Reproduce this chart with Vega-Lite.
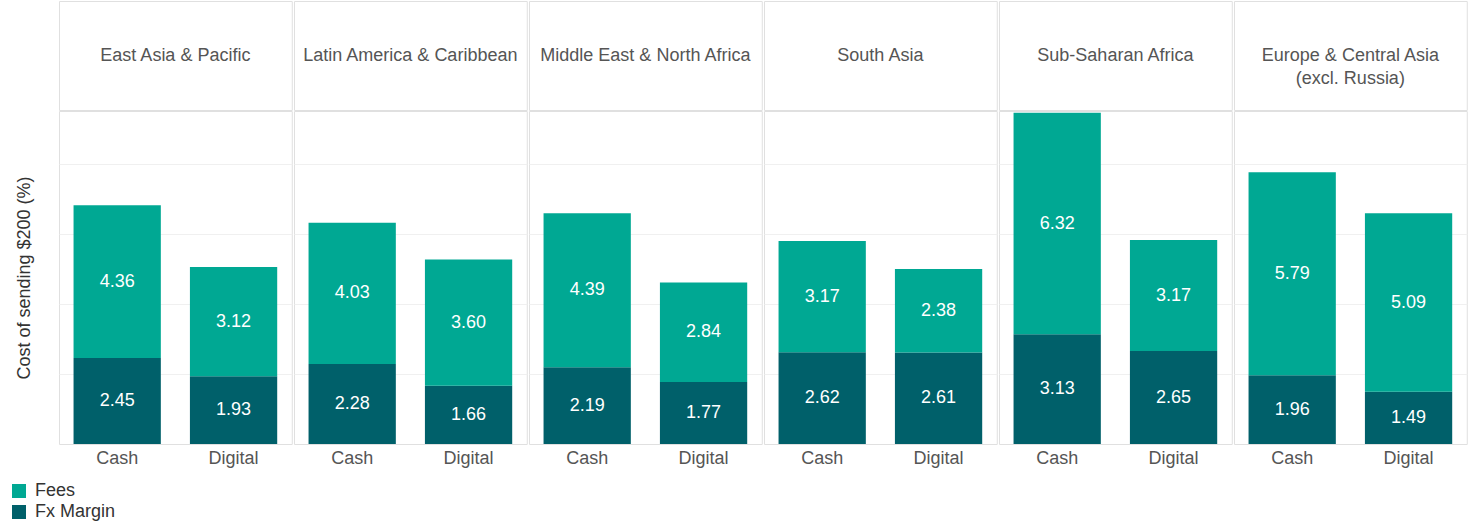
{
  "$schema": "https://vega.github.io/schema/vega-lite/v6.json",
  "padding": {"left": 10, "top": 0, "right": 0, "bottom": 0},
  "config": {
    "font": "Liberation Sans",
    "view": {"stroke": "#e0e0e0", "strokeWidth": 1},
    "legend": {"orient": "none", "legendX": -49, "legendY": 481}
  },
  "datasets": {
    "regions": [
      {"region": "East Asia & Pacific", "label": "East Asia & Pacific"},
      {"region": "Latin America & Caribbean", "label": "Latin America & Caribbean"},
      {"region": "Middle East & North Africa", "label": "Middle East & North Africa"},
      {"region": "South Asia", "label": "South Asia"},
      {"region": "Sub-Saharan Africa", "label": "Sub-Saharan Africa"},
      {"region": "Europe & Central Asia (excl. Russia)", "label": "Europe & Central Asia\n(excl. Russia)"}
    ],
    "costs": [
      {"region": "East Asia & Pacific", "type": "Cash", "component": "Fx Margin", "value": 2.45},
      {"region": "East Asia & Pacific", "type": "Cash", "component": "Fees", "value": 4.36},
      {"region": "East Asia & Pacific", "type": "Digital", "component": "Fx Margin", "value": 1.93},
      {"region": "East Asia & Pacific", "type": "Digital", "component": "Fees", "value": 3.12},
      {"region": "Latin America & Caribbean", "type": "Cash", "component": "Fx Margin", "value": 2.28},
      {"region": "Latin America & Caribbean", "type": "Cash", "component": "Fees", "value": 4.03},
      {"region": "Latin America & Caribbean", "type": "Digital", "component": "Fx Margin", "value": 1.66},
      {"region": "Latin America & Caribbean", "type": "Digital", "component": "Fees", "value": 3.60},
      {"region": "Middle East & North Africa", "type": "Cash", "component": "Fx Margin", "value": 2.19},
      {"region": "Middle East & North Africa", "type": "Cash", "component": "Fees", "value": 4.39},
      {"region": "Middle East & North Africa", "type": "Digital", "component": "Fx Margin", "value": 1.77},
      {"region": "Middle East & North Africa", "type": "Digital", "component": "Fees", "value": 2.84},
      {"region": "South Asia", "type": "Cash", "component": "Fx Margin", "value": 2.62},
      {"region": "South Asia", "type": "Cash", "component": "Fees", "value": 3.17},
      {"region": "South Asia", "type": "Digital", "component": "Fx Margin", "value": 2.61},
      {"region": "South Asia", "type": "Digital", "component": "Fees", "value": 2.38},
      {"region": "Sub-Saharan Africa", "type": "Cash", "component": "Fx Margin", "value": 3.13},
      {"region": "Sub-Saharan Africa", "type": "Cash", "component": "Fees", "value": 6.32},
      {"region": "Sub-Saharan Africa", "type": "Digital", "component": "Fx Margin", "value": 2.65},
      {"region": "Sub-Saharan Africa", "type": "Digital", "component": "Fees", "value": 3.17},
      {"region": "Europe & Central Asia (excl. Russia)", "type": "Cash", "component": "Fx Margin", "value": 1.96},
      {"region": "Europe & Central Asia (excl. Russia)", "type": "Cash", "component": "Fees", "value": 5.79},
      {"region": "Europe & Central Asia (excl. Russia)", "type": "Digital", "component": "Fx Margin", "value": 1.49},
      {"region": "Europe & Central Asia (excl. Russia)", "type": "Digital", "component": "Fees", "value": 5.09}
    ]
  },
  "spacing": -2,
  "vconcat": [
    {
      "data": {"name": "regions"},
      "facet": {
        "column": {
          "field": "region", "type": "nominal", "header": null,
          "sort": ["East Asia & Pacific", "Latin America & Caribbean", "Middle East & North Africa", "South Asia", "Sub-Saharan Africa", "Europe & Central Asia (excl. Russia)"]
        }
      },
      "spacing": 0,
      "spec": {
        "width": 232.75,
        "height": 109,
        "mark": {"type": "text", "fontSize": 18, "color": "#555555", "lineBreak": "\n", "lineHeight": 23, "baseline": "middle", "align": "center"},
        "encoding": {
          "text": {"field": "label", "type": "nominal"},
          "y": {
            "datum": 0.5, "type": "quantitative",
            "scale": {"domain": [0, 1], "nice": false},
            "axis": {"title": "\u00a0", "titleFontSize": 18, "titlePadding": 25, "labels": false, "ticks": false, "domain": false, "grid": false, "minExtent": 0}
          }
        }
      }
    },
    {
      "data": {"name": "costs"},
      "transform": [
        {"stack": "value", "groupby": ["region", "type"], "sort": [{"field": "component", "order": "descending"}], "as": ["y0", "y1"]},
        {"calculate": "(datum.y0 + datum.y1) / 2", "as": "mid"}
      ],
      "facet": {
        "column": {
          "field": "region", "type": "nominal", "header": null,
          "sort": ["East Asia & Pacific", "Latin America & Caribbean", "Middle East & North Africa", "South Asia", "Sub-Saharan Africa", "Europe & Central Asia (excl. Russia)"]
        }
      },
      "spacing": 0,
      "spec": {
        "width": 232.75,
        "height": 333,
        "encoding": {
          "x": {
            "field": "type", "type": "nominal",
            "scale": {"paddingInner": 0.25, "paddingOuter": 0.125},
            "axis": {"title": null, "labelAngle": 0, "labelFontSize": 18, "labelColor": "#555555", "ticks": false, "domain": false, "labelPadding": 4, "grid": false}
          }
        },
        "layer": [
          {
            "mark": {"type": "bar"},
            "encoding": {
              "y": {
                "field": "y1", "type": "quantitative",
                "scale": {"domain": [0, 9.5], "nice": false},
                "axis": {"title": "Cost of sending $200 (%)", "titleFontSize": 18, "titleFontWeight": "normal", "titleColor": "#333333", "titlePadding": 25, "labels": false, "ticks": false, "domain": false, "values": [2, 4, 6, 8], "grid": true, "gridColor": "#f0f0f0", "minExtent": 0}
              },
              "y2": {"field": "y0"},
              "color": {
                "field": "component", "type": "nominal",
                "scale": {"domain": ["Fees", "Fx Margin"], "range": ["#00a893", "#00606a"]},
                "legend": {"title": null, "symbolType": "square", "symbolSize": 196, "symbolStrokeWidth": 0, "labelFontSize": 18, "labelColor": "#333333", "rowPadding": 3, "labelOffset": 7}
              }
            }
          },
          {
            "mark": {"type": "text", "fontSize": 18, "color": "#ffffff", "baseline": "middle"},
            "encoding": {
              "y": {"field": "mid", "type": "quantitative", "axis": {"title": "Cost of sending $200 (%)"}},
              "text": {"field": "value", "type": "quantitative", "format": ".2f"}
            }
          }
        ]
      }
    }
  ]
}
